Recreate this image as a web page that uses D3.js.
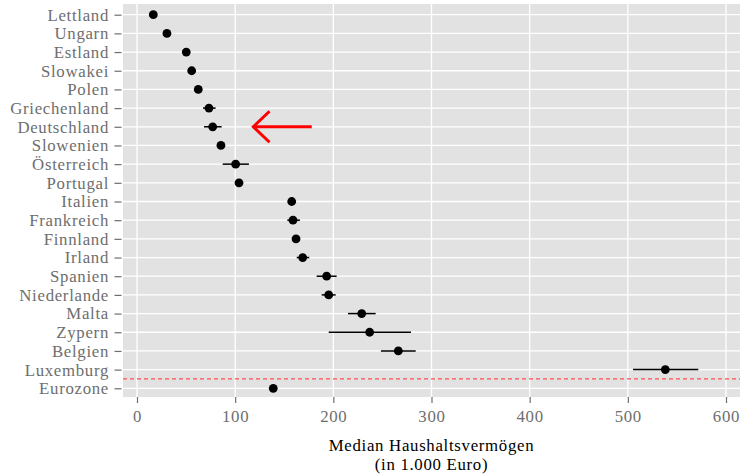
<!DOCTYPE html>
<html lang="de">
<head>
<meta charset="UTF-8">
<title>Median Haushaltsvermögen</title>
<script src="https://d3js.org/d3.v7.min.js"></script>
<style>
  body { margin: 0; background: #fff; }
  text { font-family: "Liberation Serif", "Times New Roman", serif; letter-spacing: 0.7px; }
</style>
</head>
<body>
<svg id="chart" width="741" height="475"></svg>
<script>
// Werte in 1.000 Euro (Median mit Konfidenzintervall)
var countries = ["Lettland", "Ungarn", "Estland", "Slowakei", "Polen", "Griechenland",
  "Deutschland", "Slowenien", "Österreich", "Portugal", "Italien", "Frankreich",
  "Finnland", "Irland", "Spanien", "Niederlande", "Malta", "Zypern", "Belgien",
  "Luxemburg", "Eurozone"];
var medians = [16.6, 30.5, 50.2, 55.7, 62.4, 73.3, 77.1, 85.5, 100.5, 103.9, 157.6, 158.9,
  162.0, 168.8, 193.2, 195.3, 228.9, 237.0, 266.2, 538.2, 138.8];
var lower = [15.0, 29.0, 48.5, 54.0, 60.5, 67.2, 68.2, 83.5, 87.3, 101.5, 154.0, 153.1,
  159.5, 162.7, 183.0, 188.1, 214.9, 195.3, 248.5, 505.3, 137.0];
var upper = [18.5, 32.0, 52.0, 57.5, 64.0, 80.1, 86.2, 87.5, 114.0, 106.5, 161.0, 166.0,
  164.5, 175.5, 203.4, 202.4, 243.1, 279.1, 283.9, 571.8, 140.5];
var xTicks = [0, 100, 200, 300, 400, 500, 600];

var svg = d3.select("#chart");
var fontSize = "16.8px";

var panel = { left: 123, right: 740, top: 4, bottom: 397 };

var x = d3.scaleLinear().domain([0, 600]).range([137, 726]);
var y = d3.scalePoint().domain(countries).range([14.7, 388.3]);

// Hintergrund
svg.append("rect")
  .attr("x", panel.left)
  .attr("y", panel.top)
  .attr("width", panel.right - panel.left)
  .attr("height", panel.bottom - panel.top)
  .attr("fill", "#e2e2e2");

// Gitternetz
svg.selectAll(".vgrid").data(xTicks).enter().append("line")
  .attr("x1", function (d) { return x(d); })
  .attr("x2", function (d) { return x(d); })
  .attr("y1", panel.top)
  .attr("y2", panel.bottom)
  .attr("stroke", "#fff")
  .attr("stroke-width", 1.3);

svg.selectAll(".hgrid").data(countries).enter().append("line")
  .attr("x1", panel.left)
  .attr("x2", panel.right)
  .attr("y1", function (d) { return y(d); })
  .attr("y2", function (d) { return y(d); })
  .attr("stroke", "#fff")
  .attr("stroke-width", 1.3);

// gestrichelte Linie über der Eurozone
var yDash = (y("Luxemburg") + y("Eurozone")) / 2;
svg.append("line")
  .attr("x1", panel.left)
  .attr("x2", panel.right)
  .attr("y1", yDash)
  .attr("y2", yDash)
  .attr("stroke", "#ff4d4d")
  .attr("stroke-width", 1.2)
  .attr("stroke-dasharray", "4,3");

// Fehlerbalken
svg.selectAll(".err").data(countries).enter().append("line")
  .attr("x1", function (d, i) { return x(lower[i]); })
  .attr("x2", function (d, i) { return x(upper[i]); })
  .attr("y1", function (d) { return y(d); })
  .attr("y2", function (d) { return y(d); })
  .attr("stroke", "#000")
  .attr("stroke-width", 1.5);

// Punkte
svg.selectAll(".pt").data(countries).enter().append("circle")
  .attr("cx", function (d, i) { return x(medians[i]); })
  .attr("cy", function (d) { return y(d); })
  .attr("r", 4.4)
  .attr("fill", "#000");

// Pfeil auf Deutschland
var yDe = y("Deutschland");
var arrowPts = [
  [x(135), yDe - 15.5], [x(118.5), yDe], [x(135), yDe + 15.5]
];
svg.append("line")
  .attr("x1", x(178))
  .attr("x2", x(118.5))
  .attr("y1", yDe)
  .attr("y2", yDe)
  .attr("stroke", "#ff0000")
  .attr("stroke-width", 3);
svg.append("path")
  .attr("d", d3.line()(arrowPts))
  .attr("fill", "none")
  .attr("stroke", "#ff0000")
  .attr("stroke-width", 3);

// y-Achse
var yAxis = svg.append("g")
  .attr("transform", "translate(" + panel.left + ",0)")
  .call(d3.axisLeft(y).tickSize(7).tickPadding(7));
yAxis.select(".domain").remove();
yAxis.selectAll("line").attr("stroke", "#6e6e6e").attr("stroke-width", 1.2)
  .attr("transform", "translate(-1.5,0)");
yAxis.selectAll("text")
  .attr("fill", "#6e6e6e")
  .attr("font-size", fontSize);

// x-Achse
var xAxis = svg.append("g")
  .attr("transform", "translate(0," + panel.bottom + ")")
  .call(d3.axisBottom(x).tickValues(xTicks).tickSize(6).tickPadding(7));
xAxis.select(".domain").remove();
xAxis.selectAll("line").attr("stroke", "#6e6e6e").attr("stroke-width", 1.2);
xAxis.selectAll("text")
  .attr("fill", "#6e6e6e")
  .attr("font-size", fontSize);

// Achsentitel (zweizeilig)
var cx = (panel.left + panel.right) / 2;
var title = svg.append("text")
  .attr("x", cx)
  .attr("y", 451)
  .attr("text-anchor", "middle")
  .attr("font-size", fontSize)
  .attr("fill", "#000");
title.append("tspan").attr("x", cx).text("Median Haushaltsvermögen");
title.append("tspan").attr("x", cx).attr("dy", 18.8).text("(in 1.000 Euro)");
</script>
</body>
</html>
